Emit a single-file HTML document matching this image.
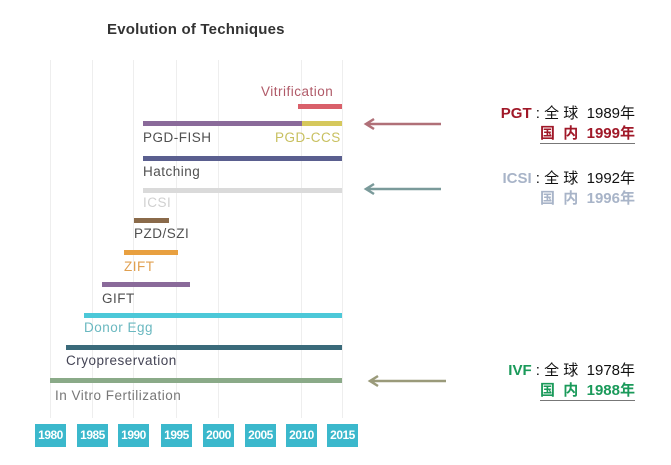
<!DOCTYPE html>
<html><head><meta charset="utf-8"><style>
body{margin:0;width:671px;height:465px;background:#fff;position:relative;overflow:hidden;font-family:"Liberation Sans","Noto Sans CJK SC",sans-serif}
.a{position:absolute}
.g{position:absolute;top:60px;height:358px;width:1px;background:#eeeeee}
.b{position:absolute;height:5px}
.l{position:absolute;font-size:13.5px;color:#505050;white-space:nowrap;letter-spacing:.5px}
.y{position:absolute;top:424px;width:31px;height:23px;background:#3bb8cc;color:#fff;font-size:12px;font-weight:bold;text-align:center;line-height:23px;letter-spacing:-.5px}
.t{position:absolute;font-size:15px;white-space:nowrap;color:#111;text-align:right;right:36px}
</style></head><body>
<div class="a" style="left:107px;top:21px;font-size:15px;color:#333;font-weight:bold;letter-spacing:.2px">Evolution of Techniques</div>
<div class="g" style="left:50px"></div><div class="g" style="left:92px"></div><div class="g" style="left:133px"></div><div class="g" style="left:176px"></div><div class="g" style="left:218px"></div><div class="g" style="left:301px"></div><div class="g" style="left:342px"></div>

<div class="l" style="left:261px;top:84px;color:#b05a68">Vitrification</div>
<div class="b" style="left:298px;top:104px;width:44px;background:#d9606a"></div>
<div class="b" style="left:143px;top:121px;width:159px;background:#8a6a9a"></div>
<div class="b" style="left:302px;top:121px;width:40px;background:#d6c85c"></div>
<div class="l" style="left:143px;top:130px">PGD-FISH</div>
<div class="l" style="left:275px;top:130px;color:#c8c060">PGD-CCS</div>
<div class="b" style="left:143px;top:156px;width:199px;background:#5a5f8f"></div>
<div class="l" style="left:143px;top:164px">Hatching</div>
<div class="b" style="left:143px;top:188px;width:199px;background:#dadada"></div>
<div class="l" style="left:143px;top:195px;color:#d0d0d0">ICSI</div>
<div class="b" style="left:134px;top:218px;width:35px;background:#8a6a4a"></div>
<div class="l" style="left:134px;top:226px">PZD/SZI</div>
<div class="b" style="left:124px;top:250px;width:54px;background:#e8a040"></div>
<div class="l" style="left:124px;top:259px;color:#e0a050">ZIFT</div>
<div class="b" style="left:102px;top:282px;width:88px;background:#8a6a9a"></div>
<div class="l" style="left:102px;top:291px">GIFT</div>
<div class="b" style="left:84px;top:313px;width:258px;background:#4cc8d8"></div>
<div class="l" style="left:84px;top:320px;color:#6ab8c0">Donor Egg</div>
<div class="b" style="left:66px;top:345px;width:276px;background:#3a6a7a"></div>
<div class="l" style="left:66px;top:353px;color:#445">Cryopreservation</div>
<div class="b" style="left:50px;top:378px;width:292px;background:#8aaa88"></div>
<div class="l" style="left:55px;top:388px;color:#777">In Vitro Fertilization</div>

<div class="y" style="left:35px">1980</div><div class="y" style="left:77px">1985</div><div class="y" style="left:118px">1990</div><div class="y" style="left:161px">1995</div><div class="y" style="left:203px">2000</div><div class="y" style="left:245px">2005</div><div class="y" style="left:286px">2010</div><div class="y" style="left:327px">2015</div>

<svg class="a" style="left:0;top:0" width="671" height="465">
<g stroke-width="2.5" fill="none">
<path d="M366 124H441M374 119L366 124L374 129" stroke="#b07078"/>
<path d="M366 189H441M374 184L366 189L374 194" stroke="#7a9a9a"/>
<path d="M370 381H446M378 376L370 381L378 386" stroke="#9a9a7a"/>
</g></svg>

<div class="t" style="top:102px"><b style="color:#a01828">PGT</b> : 全 球 &nbsp;1989年</div>
<div class="t" style="top:122px;color:#a01828;font-weight:bold;border-bottom:1px solid #777">国 &nbsp;内 &nbsp;1999年</div>
<div class="t" style="top:167px"><b style="color:#a8b4c8">ICSI</b> : 全 球 &nbsp;1992年</div>
<div class="t" style="top:187px;color:#a8b4c8;font-weight:bold">国 &nbsp;内 &nbsp;1996年</div>
<div class="t" style="top:359px"><b style="color:#1a9a5a">IVF</b> : 全 球 &nbsp;1978年</div>
<div class="t" style="top:379px;color:#1a9a5a;font-weight:bold;border-bottom:1px solid #777">国 &nbsp;内 &nbsp;1988年</div>
</body></html>
